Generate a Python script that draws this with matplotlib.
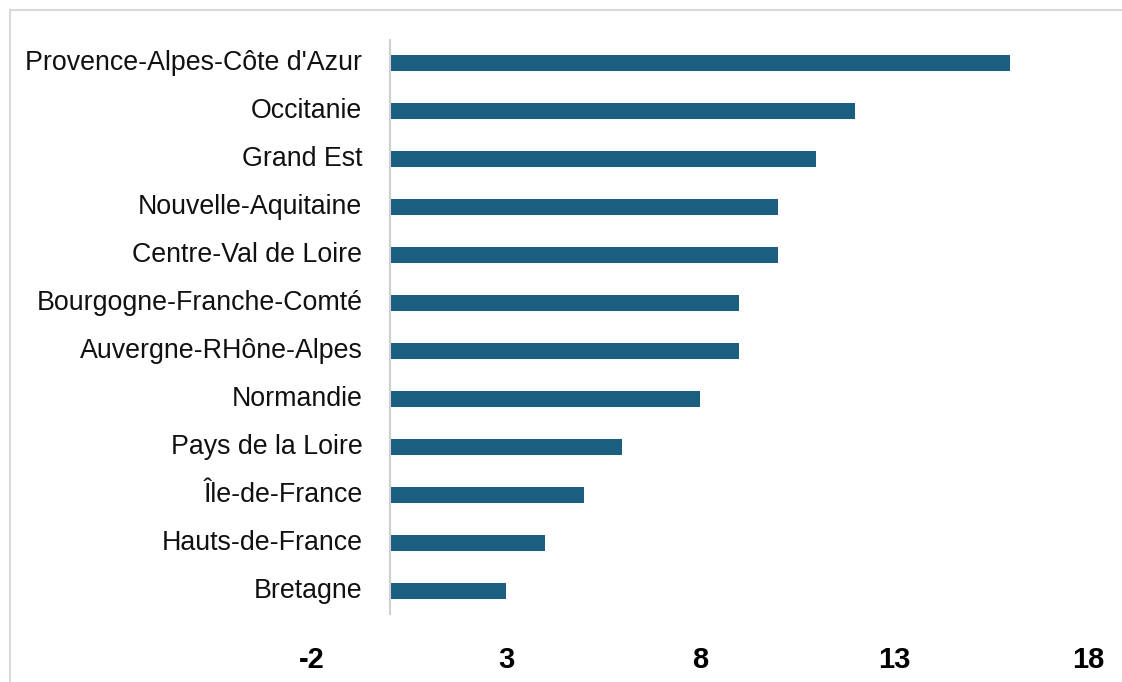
import matplotlib.pyplot as plt
from matplotlib.patches import Rectangle

plt.rcParams['font.family'] = ['Liberation Sans', 'DejaVu Sans']

regions = [
    "Provence-Alpes-Côte d'Azur", "Occitanie", "Grand Est", "Nouvelle-Aquitaine",
    "Centre-Val de Loire", "Bourgogne-Franche-Comté", "Auvergne-RHône-Alpes",
    "Normandie", "Pays de la Loire", "Île-de-France", "Hauts-de-France", "Bretagne",
]
values = [16, 12, 11, 10, 10, 9, 9, 8, 6, 5, 4, 3]
xticks = [-2, 3, 8, 13, 18]

fig = plt.figure(figsize=(11.22, 6.82), dpi=100)
ax = fig.add_axes([312 / 1122, 1 - 615 / 682, 776 / 1122, 576 / 682])

pos = list(range(len(regions)))[::-1]
ax.barh(pos, values, height=0.35, color='#1a5f80', left=0)
ax.set_ylim(-0.5, len(regions) - 0.5)
ax.set_xlim(-2, 18)

ax.set_yticks([])
ax.set_xticks(xticks)
ax.set_xticklabels([str(t) for t in xticks], fontsize=21, fontweight='bold')
ax.tick_params(axis='x', length=0, pad=22)

for s in ['top', 'right', 'bottom', 'left']:
    ax.spines[s].set_visible(False)
ax.axvline(0, color='#d0d0d0', lw=1.5)

for p, name in zip(pos, regions):
    ax.text(-0.7, p, name, ha='right', va='center', fontsize=19.3, color='#111111')

# light frame around the chart area
fig.patches.append(Rectangle((10 / 1122, -0.1), 1.2, 1 - 10 / 682 + 0.1,
                             transform=fig.transFigure, fill=False,
                             edgecolor='#d9d9d9', lw=1.5))

fig.savefig('out.png', dpi=100)
